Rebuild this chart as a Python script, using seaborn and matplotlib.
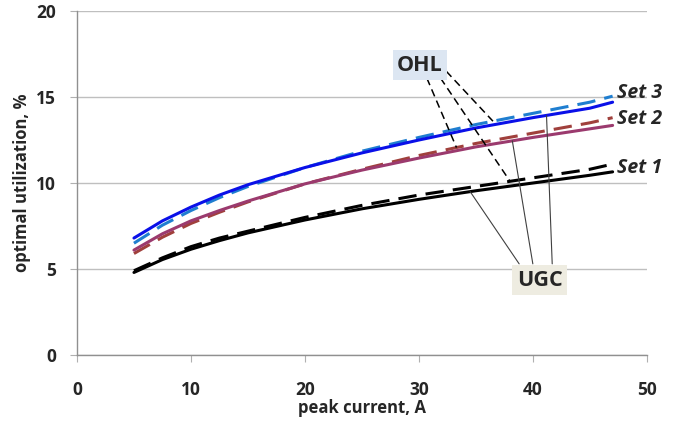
import matplotlib
matplotlib.use("Agg")
import matplotlib.pyplot as plt
import seaborn as sns
import pandas as pd

# peak current, A
current = [5, 7.5, 10, 12.5, 15, 20, 25, 30, 35, 40, 45, 47]

# optimal utilization, %
ugc_set1 = [4.8, 5.55, 6.15, 6.65, 7.1, 7.85, 8.5, 9.05, 9.55, 10.0, 10.45, 10.65]
ohl_set1 = [4.9, 5.65, 6.3, 6.8, 7.2, 8.0, 8.7, 9.3, 9.8, 10.3, 10.8, 11.1]
ugc_set2 = [6.1, 7.05, 7.8, 8.4, 8.95, 9.95, 10.75, 11.45, 12.1, 12.65, 13.15, 13.35]
ohl_set2 = [5.9, 6.85, 7.65, 8.3, 8.9, 9.95, 10.8, 11.6, 12.3, 12.9, 13.5, 13.8]
ugc_set3 = [6.8, 7.8, 8.6, 9.3, 9.9, 10.9, 11.75, 12.5, 13.2, 13.8, 14.35, 14.7]
ohl_set3 = [6.5, 7.55, 8.4, 9.15, 9.8, 10.9, 11.85, 12.65, 13.4, 14.05, 14.7, 15.05]

set_labels = ["Set 1", "Set 2", "Set 3"]

sns.set_style("white")
plt.rcParams["font.family"] = ["Open Sans", "DejaVu Sans"]

fig = plt.figure(figsize=(6.83, 4.24), dpi=100)
ax = fig.add_axes([0.1127, 0.1627, 0.8343, 0.8113])

series = [
    (ohl_set1, "black", (6, 3)),
    (ugc_set1, "black", None),
    (ohl_set2, "#a0403c", (6, 3)),
    (ugc_set2, "#9b3a6e", None),
    (ohl_set3, "#1f7ed0", (6, 3)),
    (ugc_set3, "#0a10e8", None),
]
for vals, col, dash in series:
    df = pd.DataFrame({"x": current, "y": vals})
    sns.lineplot(data=df, x="x", y="y", ax=ax, color=col, linewidth=2.2)
    if dash is not None:
        ax.lines[-1].set_dashes(dash)


def interp(vals, xt):
    for i in range(len(current) - 1):
        if current[i] <= xt <= current[i + 1]:
            f = (xt - current[i]) / (current[i + 1] - current[i])
            return vals[i] + f * (vals[i + 1] - vals[i])


ax.set_xlim(0, 50)
ax.set_ylim(0, 20)
ax.set_xticks(range(0, 51, 10))
ax.set_yticks(range(0, 21, 5))
ax.grid(axis="y", color="#bfbfbf", linewidth=1.0)
ax.grid(axis="x", visible=False)
ax.set_axisbelow(True)
for s in ["top", "right"]:
    ax.spines[s].set_visible(False)
for s in ["left", "bottom"]:
    ax.spines[s].set_color("#909090")
    ax.spines[s].set_linewidth(1.0)
ax.tick_params(axis="both", which="major", length=5, color="#b0b0b0",
               direction="out", labelsize=12.5, bottom=True, left=True)
ax.tick_params(axis="x", pad=14)
ax.tick_params(axis="y", pad=10)
for t in ax.get_xticklabels() + ax.get_yticklabels():
    t.set_fontweight("bold")
ax.set_xlabel("peak current, A", fontsize=12, fontweight="bold", labelpad=0)
ax.set_ylabel("optimal utilization, %", fontsize=12, fontweight="bold", labelpad=4)

# set labels at end of lines
ends = [ugc_set1[-1] + 0.25, ugc_set2[-1] + 0.4, ugc_set3[-1] + 0.55]
for lab, yv in zip(set_labels, ends):
    ax.text(47.4, yv, lab, fontsize=14, fontweight="bold", style="italic",
            ha="left", va="center")

# OHL callout
ohl_targets = [(33.3, ohl_set2), (38.0, ohl_set1), (36.5, ohl_set3)]
ohl_starts = [(30.7, 16.1), (31.9, 16.1), (32.4, 16.5)]
for (xt, vals), (xs, ys) in zip(ohl_targets, ohl_starts):
    ax.plot([xs, xt], [ys, interp(vals, xt)], color="black", linewidth=1.1, dashes=(5, 3))
ax.text(30.1, 16.85, "OHL", fontsize=15.5, fontweight="bold", ha="center", va="center",
        bbox=dict(boxstyle="square,pad=0.2", fc="#dce6f2", ec="none"))

# UGC callout
ugc_targets = [(34.5, ugc_set1), (38.2, ugc_set2), (41.2, ugc_set3)]
ugc_starts = [(38.8, 5.3), (40.0, 5.3), (41.7, 5.3)]
for (xt, vals), (xs, ys) in zip(ugc_targets, ugc_starts):
    ax.plot([xs, xt], [ys, interp(vals, xt)], color="#404040", linewidth=0.8)
ax.text(40.6, 4.35, "UGC", fontsize=15.5, fontweight="bold", ha="center", va="center",
        bbox=dict(boxstyle="square,pad=0.2", fc="#eeece1", ec="none"))

fig.savefig("out.png", dpi=100)
